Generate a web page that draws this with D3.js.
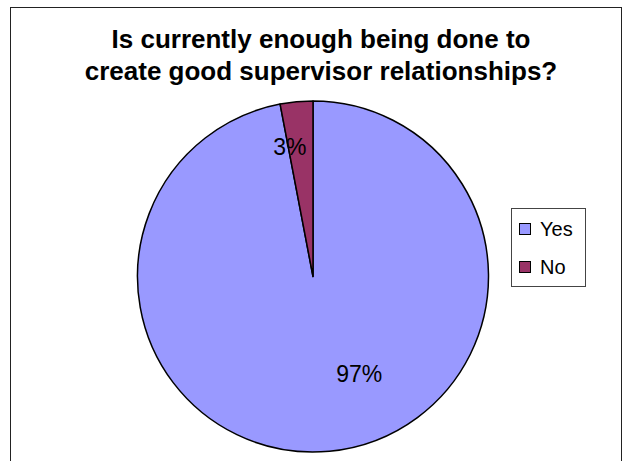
<!DOCTYPE html>
<html>
<head>
<meta charset="utf-8">
<script src="https://cdn.jsdelivr.net/npm/d3@7/dist/d3.min.js"></script>
<style>
  body { margin: 0; background: #fff; }
  svg { display: block; font-family: "Liberation Sans", Arial, sans-serif; }
</style>
</head>
<body>
<div id="chart"></div>
<script>
// Answers and shares
const categories = ['Yes', 'No'];
const values = [97, 3];
const colors = ['#9999ff', '#993366'];
const titleLines = ['Is currently enough being done to', 'create good supervisor relationships?'];

const W = 632, H = 461;
const cx = 313, cy = 276.5, R = 175.5;

const svg = d3.select('#chart')
    .append('svg')
    .attr('width', W)
    .attr('height', H);

// Chart area border
svg.append('rect')
    .attr('x', 10.5)
    .attr('y', 7.5)
    .attr('width', 611)
    .attr('height', 470)
    .attr('fill', '#fff')
    .attr('stroke', '#222')
    .attr('stroke-width', 1);

// Title
svg.append('g')
    .selectAll('text')
    .data(titleLines)
    .enter()
    .append('text')
    .attr('x', 321)
    .attr('y', (d, i) => 48 + i * 32)
    .attr('text-anchor', 'middle')
    .attr('font-size', '26px')
    .attr('font-weight', 'bold')
    .attr('fill', '#000')
    .text(d => d);

const data = categories.map((c, i) => ({ name: c, value: values[i], color: colors[i] }));

const pie = d3.pie()
    .value(d => d.value)
    .sort(null);

const arc = d3.arc()
    .innerRadius(0)
    .outerRadius(R);

const arcs = pie(data);

const g = svg.append('g')
    .attr('transform', `translate(${cx},${cy})`);

g.selectAll('path')
    .data(arcs)
    .enter()
    .append('path')
    .attr('d', arc)
    .attr('fill', d => d.data.color)
    .attr('stroke', '#000')
    .attr('stroke-width', 1.5)
    .attr('stroke-linejoin', 'round');

// Percent labels: Excel-style placement, small nudge per slice
const labelRadius = [0.56, 0.74];
const labelNudge = [[37, 0], [-11, 0]];
const total = d3.sum(values);

g.selectAll('text.pct')
    .data(arcs)
    .enter()
    .append('text')
    .attr('class', 'pct')
    .attr('transform', (d, i) => {
        const a = (d.startAngle + d.endAngle) / 2;
        const r = R * labelRadius[i];
        const x = Math.sin(a) * r + labelNudge[i][0];
        const y = -Math.cos(a) * r + labelNudge[i][1];
        return `translate(${x},${y})`;
    })
    .attr('text-anchor', 'middle')
    .attr('dominant-baseline', 'central')
    .attr('font-size', '23px')
    .attr('fill', '#000')
    .text(d => Math.round(d.data.value / total * 100) + '%');

// Legend
const legend = svg.append('g')
    .attr('transform', 'translate(511,208)');

legend.append('rect')
    .attr('x', 0.5)
    .attr('y', 0.5)
    .attr('width', 74)
    .attr('height', 78)
    .attr('fill', '#fff')
    .attr('stroke', '#444')
    .attr('stroke-width', 1);

const item = legend.selectAll('g.item')
    .data(data)
    .enter()
    .append('g')
    .attr('class', 'item')
    .attr('transform', (d, i) => `translate(8,${15 + i * 38})`);

item.append('rect')
    .attr('x', 0.5)
    .attr('y', 0.5)
    .attr('width', 11)
    .attr('height', 11)
    .attr('fill', d => d.color)
    .attr('stroke', '#000')
    .attr('stroke-width', 1);

item.append('text')
    .attr('x', 21)
    .attr('y', 13)
    .attr('font-size', '20px')
    .attr('fill', '#000')
    .text(d => d.name);
</script>
</body>
</html>
